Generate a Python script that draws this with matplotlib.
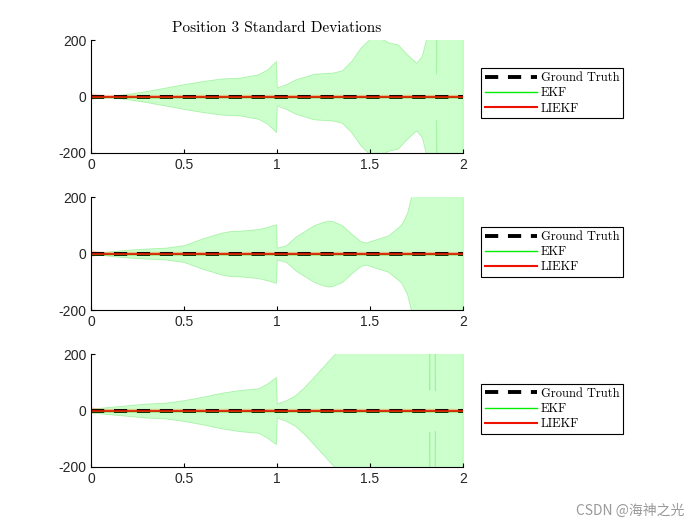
import numpy as np
import matplotlib
matplotlib.use('Agg')
import matplotlib.pyplot as plt

plt.rcParams['axes.unicode_minus'] = False

# time knots (s) and 3-sigma envelope of EKF position
t1 = [0, 0.1, 0.2, 0.3, 0.4, 0.5, 0.6, 0.7, 0.8, 0.9, 0.95, 0.995, 1.0, 1.05, 1.1, 1.2, 1.3,
      1.35, 1.4, 1.45, 1.5, 1.55, 1.6, 1.65, 1.7, 1.75, 1.78, 1.8, 1.82, 1.854, 1.857, 1.86, 2.0]
s1 = [0, 2, 10, 20, 32, 44, 55, 64, 67, 79, 97, 126, 32, 44, 61, 81, 85,
      93, 126, 173, 205, 210, 192, 185, 150, 120, 144, 197, 260, 300, 82, 300, 300]

t2 = [0, 0.1, 0.2, 0.3, 0.4, 0.5, 0.6, 0.7, 0.75, 0.8, 0.9, 0.95, 0.995, 1.0, 1.05, 1.1, 1.2,
      1.25, 1.28, 1.3, 1.35, 1.4, 1.45, 1.48, 1.5, 1.55, 1.6, 1.65, 1.67, 1.7, 1.72, 1.75, 2.0]
s2 = [0, 8, 14, 18, 21, 30, 54, 74, 80, 81, 87, 95, 104, 21, 30, 60, 101,
      113, 117, 115, 101, 71, 44, 39, 44, 54, 65, 92, 104, 143, 196, 260, 300]

t3 = [0, 0.1, 0.2, 0.3, 0.4, 0.5, 0.6, 0.7, 0.8, 0.9, 0.95, 0.995, 1.0, 1.05, 1.1, 1.15, 1.2,
      1.25, 1.3, 1.35, 1.4, 1.818, 1.82, 1.822, 1.848, 1.85, 1.852, 2.0]
s3 = [7, 13, 19, 25, 28, 37, 49, 63, 73, 79, 97, 119, 25, 37, 55, 85, 121,
      157, 193, 230, 300, 300, 75, 300, 300, 72, 300, 300]

# LIEKF 3-sigma (very small)
tl = [0, 0.03, 0.08, 0.5, 1.0, 1.5, 2.0]
sl = [12, 8, 6, 6, 6, 6, 6]

times = [t1, t2, t3]
sigmas = [s1, s2, s3]
bottoms = [0.7086, 0.4095, 0.1105]
leg_tops = [0.870, 0.5676, 0.2686]

fig = plt.figure(figsize=(7, 5.25), dpi=100)
serif = 'cmr10'

for i in range(3):
    ax = fig.add_axes([0.13, bottoms[i], 0.531, 0.215])
    t = np.array(times[i])
    s = np.array(sigmas[i])
    ax.fill_between(t, -s, s, facecolor=(0, 1, 0, 0.2), edgecolor=(0, 0.8, 0, 0.25), linewidth=0.6)
    ax.fill_between(tl, -np.array(sl), sl, facecolor=(1, 0.3, 0, 0.3), edgecolor='none')
    ax.plot([0, 2], [0, 0], color='k', linestyle=(0, (3.4, 2.5)), linewidth=2.8, label='Ground Truth')
    ax.plot([0, 2], [0, 0], color='#00ee00', linewidth=1.0, label='EKF')
    ax.plot([0, 2], [0, 0], color='#ee1100', linewidth=1.5, alpha=0.85, label='LIEKF')
    ax.set_xlim(0, 2)
    ax.set_ylim(-200, 200)
    ax.set_xticks([0, 0.5, 1, 1.5, 2])
    ax.set_xticklabels(['0', '0.5', '1', '1.5', '2'])
    ax.set_yticks([-200, 0, 200])
    ax.set_yticklabels(['-200', '0', '200'])
    ax.spines['top'].set_visible(False)
    ax.spines['right'].set_visible(False)
    ax.tick_params(direction='in', length=3, labelsize=10, width=0.8)
    for lab in ax.get_xticklabels() + ax.get_yticklabels():
        lab.set_family('Liberation Sans')
        lab.set_color('#262626')
    leg = ax.legend(loc='upper left', bbox_to_anchor=(0.687, leg_tops[i]), bbox_transform=fig.transFigure,
                    borderaxespad=0, fancybox=False, framealpha=1, edgecolor='k',
                    prop={'family': serif, 'size': 9}, handlelength=4.2, borderpad=0.3,
                    labelspacing=0.25, handletextpad=0.3)
    leg.get_frame().set_linewidth(0.8)
    for h in leg.get_lines():
        h.set_alpha(1)
    if i == 0:
        ax.set_title('Position 3 Standard Deviations', family=serif, fontsize=11, pad=6)

fig.text(0.978, 0.027, 'CSDN @海神之光', ha='right', va='center', fontsize=10, color='#999999',
         family=['Noto Sans CJK SC', 'DejaVu Sans'])

fig.savefig('out.png', dpi=100)
